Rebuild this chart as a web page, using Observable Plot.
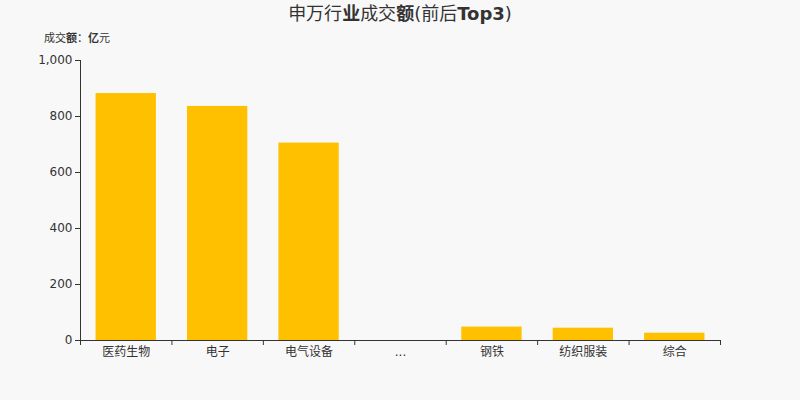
<!DOCTYPE html>
<html><head><meta charset="utf-8">
<script src="https://cdn.jsdelivr.net/npm/d3@7"></script>
<script src="https://cdn.jsdelivr.net/npm/@observablehq/plot@0.6"></script>
<style>
html,body{margin:0;padding:0;background:#f8f8f8;}
body{width:800px;height:400px;overflow:hidden;font-family:"DejaVu Sans","Noto Sans CJK SC",sans-serif;color:#333;}
#title{height:28px;line-height:28px;text-align:center;font-size:18px;color:#333;}
#sub{height:22px;line-height:22px;font-size:11px;padding-left:44px;color:#333;}
b{font-weight:bold;}
</style></head><body>
<div id="title">申万行<b>业</b>成交<b>额</b>(前后<b>Top3</b>)</div>
<div id="sub">成交<b>额</b>：<b>亿</b>元</div>
<div id="chart"></div>
<script>
const categories = ["医药生物", "电子", "电气设备", "...", "钢铁", "纺织服装", "综合"];
const values = [882, 836, 705, null, 48, 44, 26];
const yTicks = [0, 200, 400, 600, 800, 1000];

const data = categories.map((c, i) => ({i, c, v: values[i]})).filter(d => d.v != null);
const idx = categories.map((c, i) => i);
const bounds = categories.map((c, i) => i - 0.5).concat([categories.length - 0.5]);
const halfBar = 0.33;

const chart = Plot.plot({
  width: 800,
  height: 350,
  marginTop: 10,
  marginBottom: 60,
  marginLeft: 80,
  marginRight: 80,
  style: {background: "#f8f8f8", fontFamily: "DejaVu Sans, Noto Sans CJK SC, sans-serif", color: "#333"},
  x: {type: "linear", domain: [-0.5, categories.length - 0.5], axis: null},
  y: {domain: [0, 1000], axis: null},
  marks: [
    Plot.rectY(data, {x1: d => d.i - halfBar, x2: d => d.i + halfBar, y1: 0, y2: "v", fill: "#ffc000"}),
    Plot.axisY(yTicks, {label: null, tickSize: 5, tickPadding: 3, tickFormat: d3.format(","), fontSize: 12, stroke: "#333", fill: "#333"}),
    Plot.axisX(bounds, {label: null, tickSize: 5, tickFormat: () => "", stroke: "#333"}),
    Plot.axisX(idx, {label: null, tickSize: 0, tickPadding: 7, tickFormat: i => categories[i], fontSize: 12, fill: "#333"}),
    Plot.ruleX([-0.5], {stroke: "#333"}),
    Plot.ruleY([0], {stroke: "#333"})
  ]
});
document.getElementById("chart").appendChild(chart);
</script>
</body></html>
